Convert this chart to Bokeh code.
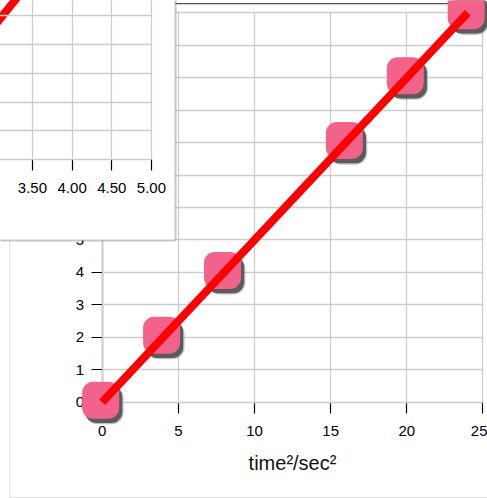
from bokeh.plotting import figure
from bokeh.models import (LinearAxis, FixedTicker, NumeralTickFormatter, Range1d,
                          ColumnDataSource, Grid, BoxAnnotation, Span,
                          GlobalInlineStyleSheet)
from bokeh.transform import dodge
from bokeh.embed import file_html
from bokeh.resources import INLINE

# ---- data ----
time_sq = [0, 4, 8, 16, 20, 24]          # time^2 / sec^2
distance = [0, 2, 4, 8, 10, 12]          # distance
time_s = [0, 2, 2.83, 4, 4.47, 4.90]     # time / sec (inset chart)
main_x_ticks = [0, 5, 10, 15, 20, 25]
main_y_ticks = [0, 1, 2, 3, 4, 5, 6, 7, 8, 9, 10, 11, 12]
inset_x_ticks = [0, 0.5, 1.0, 1.5, 2.0, 2.5, 3.0, 3.5, 4.0, 4.5, 5.0]
inset_y_ticks = [0, 1, 2, 3, 4, 5, 6, 7, 8, 9, 10, 11, 12, 13]

FONT = "Liberation Sans"
GRID = "#cccccc"

src = ColumnDataSource(dict(x=time_sq, y=distance))
isrc = ColumnDataSource(dict(x=time_s, y=distance))

p = figure(width=487, height=498, title=None,
           x_range=Range1d(-6.678, 25.299), y_range=Range1d(-2.968, 12.379),
           output_backend="svg", toolbar_location=None, min_border=0,
           x_axis_location=None, y_axis_location=None,
           background_fill_color="white", border_fill_color="white",
           outline_line_color=None,
           stylesheets=[GlobalInlineStyleSheet(css="body { margin: 0; }")])
p.center = [r for r in p.center if not isinstance(r, Grid)]

# inset coordinate system (second chart drawn over the first)
p.extra_x_ranges = {"ix": Range1d(3.097, 9.236)}
p.extra_y_ranges = {"iy": Range1d(-11.76, 5.531)}

# ---- outer panel border of the main chart ----
p.add_layout(BoxAnnotation(left=-6.07, right=40, top=12.28, bottom=-2.94,
                           fill_color=None, line_color="#8f8f8f", line_width=1,
                           level="underlay"))
p.add_layout(Span(location=12.28, dimension="width", line_color="#555555",
                  line_width=1.2, level="underlay"))

# ---- main chart grids / axes ----
p.add_layout(Grid(dimension=0, ticker=FixedTicker(ticks=main_x_ticks), bounds=(0, 25),
                  cross_bounds=(0, 12), grid_line_color=GRID, grid_line_width=1.3))
p.add_layout(Grid(dimension=1, ticker=FixedTicker(ticks=main_y_ticks), bounds=(0, 12),
                  cross_bounds=(0, 25), grid_line_color=GRID, grid_line_width=1.3))

def style_axis(ax):
    ax.axis_line_color = "black"
    ax.axis_line_width = 1.2
    ax.major_tick_line_color = "black"
    ax.major_tick_line_width = 1.2
    ax.major_tick_out = 11
    ax.major_tick_in = 0
    ax.minor_tick_line_color = None
    ax.major_label_text_font = FONT
    ax.major_label_text_font_size = "15px"
    ax.major_label_text_color = "black"

xaxis = LinearAxis(fixed_location=0, bounds=(0, 25), ticker=FixedTicker(ticks=main_x_ticks),
                   axis_label="time²/sec²", level="underlay")
yaxis = LinearAxis(fixed_location=0, bounds=(0, 12), ticker=FixedTicker(ticks=main_y_ticks),
                   level="underlay")
style_axis(xaxis)
style_axis(yaxis)
xaxis.major_label_standoff = 13
yaxis.major_label_standoff = 7
xaxis.axis_label_text_font = FONT
xaxis.axis_label_text_font_size = "20px"
xaxis.axis_label_text_font_style = "normal"
xaxis.axis_label_text_color = "#111111"
xaxis.axis_label_standoff = 12
p.add_layout(xaxis, "below")
p.add_layout(yaxis, "left")

# markers with drop shadow, then the fit line
p.rect(x=dodge("x", 0.16), y=dodge("y", -0.095), width=38, height=38,
       width_units="screen", height_units="screen", border_radius=12,
       fill_color="#888888", fill_alpha=0.5, line_color=None, source=src)
p.rect(x=dodge("x", 0.105), y=dodge("y", -0.07), width=37, height=37,
       width_units="screen", height_units="screen", border_radius=11,
       fill_color="#505050", fill_alpha=0.9, line_color=None, source=src)
p.rect(x=dodge("x", -0.1), y=dodge("y", 0.062), width=37, height=37,
       width_units="screen", height_units="screen", border_radius=11,
       fill_color="#f2628a", line_color=None, source=src)
p.line(x="x", y="y", source=src, line_color="#ff0000", line_width=8, line_cap="butt")

# ---- inset chart (distance vs time) ----
p.add_layout(BoxAnnotation(left=-20, right=5.303, top=30, bottom=-2.802,
                           x_range_name="ix", y_range_name="iy",
                           fill_color="white", fill_alpha=1.0,
                           line_color="#444444", line_width=2, level="annotation"))
p.add_layout(Grid(dimension=0, ticker=FixedTicker(ticks=inset_x_ticks), bounds=(0, 5),
                  cross_bounds=(0, 13), x_range_name="ix", y_range_name="iy",
                  grid_line_color=GRID, grid_line_width=1.3, level="overlay"))
p.add_layout(Grid(dimension=1, ticker=FixedTicker(ticks=inset_y_ticks), bounds=(0, 13),
                  cross_bounds=(0, 5), x_range_name="ix", y_range_name="iy",
                  grid_line_color=GRID, grid_line_width=1.3, level="overlay"))
ixaxis = LinearAxis(fixed_location=0, bounds=(0, 5), ticker=FixedTicker(ticks=inset_x_ticks),
                    formatter=NumeralTickFormatter(format="0.00"),
                    x_range_name="ix", y_range_name="iy", level="overlay")
style_axis(ixaxis)
ixaxis.major_label_standoff = 12
p.add_layout(ixaxis, "below")
p.line(x="x", y="y", source=isrc, x_range_name="ix", y_range_name="iy",
       line_color="#ff0000", line_width=8, line_cap="butt", level="overlay")

open("out.html", "w").write(file_html(p, INLINE))
